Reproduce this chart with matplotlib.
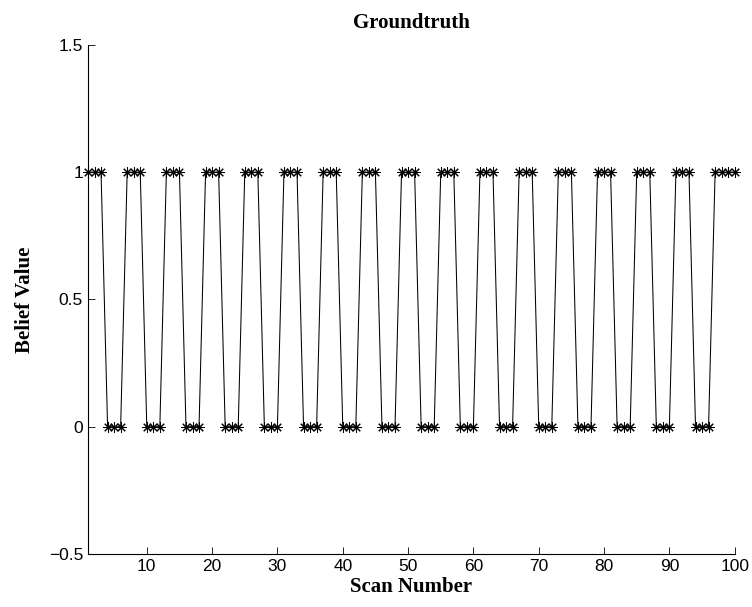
import matplotlib
matplotlib.use("Agg")
import matplotlib.pyplot as plt

scan = list(range(1, 101))
belief = [1, 1, 1, 0, 0, 0] * 16 + [1, 1, 1, 1]

x_ticks = [10, 20, 30, 40, 50, 60, 70, 80, 90, 100]
y_ticks = [-0.5, 0, 0.5, 1, 1.5]
y_tick_labels = ["\u22120.5", "0", "0.5", "1", "1.5"]

fig = plt.figure(figsize=(7.52, 6.07), dpi=100)
ax = fig.add_axes([0.117, 0.0873, 0.86, 0.8387])

ax.plot(scan, belief, color="black", linewidth=0.75, clip_on=False,
        marker=(8, 2, 0), markersize=7.5, markeredgewidth=0.75,
        markeredgecolor="black")

ax.set_xlim(1, 100)
ax.set_ylim(-0.5, 1.5)
ax.set_xticks(x_ticks)
ax.set_yticks(y_ticks)
ax.set_yticklabels(y_tick_labels)

for side in ("top", "right"):
    ax.spines[side].set_visible(False)
for side in ("left", "bottom"):
    ax.spines[side].set_linewidth(0.8)

ax.tick_params(direction="in", length=5, width=0.6, labelsize=12.5)
for lab in ax.get_xticklabels() + ax.get_yticklabels():
    lab.set_fontfamily("Liberation Sans")

serif_bold = dict(family="Liberation Serif", weight="bold", size=15)
ax.set_title("Groundtruth", pad=12, **serif_bold)
ax.set_xlabel("Scan Number", labelpad=2, **serif_bold)
ax.set_ylabel("Belief Value", labelpad=10, **serif_bold)

fig.savefig("out.png", dpi=100)
